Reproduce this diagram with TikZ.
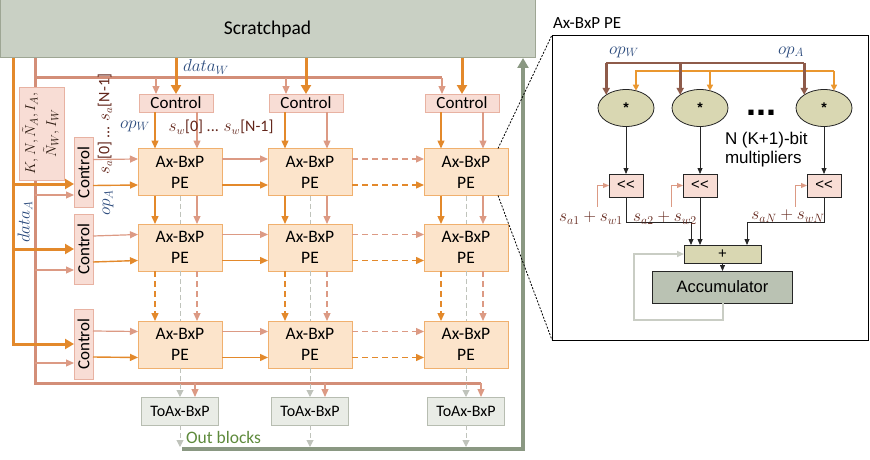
\documentclass[tikz,border=0pt]{standalone}
\usepackage{fontspec}
\usepackage{graphicx}
\setmainfont{Carlito}
\newfontfamily\arialf{Liberation Sans}
\usetikzlibrary{arrows.meta,shapes.geometric}
\definecolor{orng}{HTML}{E3892B}
\definecolor{slmn}{HTML}{DC9A84}
\definecolor{slmnD}{HTML}{D38E78}
\definecolor{pefill}{HTML}{FCE4CB}
\definecolor{pedraw}{HTML}{F0B06E}
\definecolor{ctfill}{HTML}{F8DDD5}
\definecolor{ctdraw}{HTML}{E8B2A2}
\definecolor{spfill}{HTML}{C9D0C4}
\definecolor{spdraw}{HTML}{9EA694}
\definecolor{tofill}{HTML}{E9ECE6}
\definecolor{todraw}{HTML}{B7BDB1}
\definecolor{grn}{HTML}{8A9882}
\definecolor{gdash}{HTML}{BFC3BB}
\definecolor{lblue}{HTML}{2B4A7C}
\definecolor{lbrown}{HTML}{62251A}
\definecolor{kntext}{HTML}{2E1C12}
\definecolor{txtgreen}{HTML}{5E8A3C}
\definecolor{khaki}{HTML}{D9D7B2}
\definecolor{accf}{HTML}{BAC2B3}
\definecolor{opbrown}{HTML}{8E5B4A}
\definecolor{oporange}{HTML}{EA972F}
\definecolor{fbgray}{HTML}{C9CDC4}
\newcommand{\fsz}[2]{\fontsize{#1}{#2}\selectfont}
\begin{document}
\begin{tikzpicture}[x=1pt,y=-1pt,
  every node/.style={inner sep=0pt, outer sep=0pt},
  spbox/.style={draw=spdraw, fill=spfill, line width=1pt, minimum width=535pt, minimum height=58pt, font=\fsz{19.5}{23}},
  ctop/.style={draw=ctdraw, fill=ctfill, line width=0.8pt, minimum width=74pt, minimum height=18pt, font=\fsz{17}{20}},
  pebox/.style={draw=pedraw, fill=pefill, line width=0.9pt, minimum width=84pt, minimum height=47pt, align=center, font=\fsz{17.5}{21}},
  lctrl/.style={draw=ctdraw, fill=ctfill, line width=0.8pt, minimum width=19pt, minimum height=70pt, font=\fsz{17}{20}},
  kbox/.style={draw=ctdraw, fill=ctfill, line width=0.8pt, minimum width=45pt, minimum height=93pt, font=\fsz{15}{21}, text=kntext},
  tobox/.style={draw=todraw, fill=tofill, line width=0.8pt, minimum width=77pt, minimum height=28pt, font=\fsz{16}{19}},
  mlab/.style={font=\fsz{18.5}{20}},
  oarr/.style={draw=orng, line width=1.4pt, -{Triangle[length=8pt,width=7pt]}},
  sarr/.style={draw=slmn, line width=1.2pt, -{Triangle[length=8pt,width=7pt]}},
  othick/.style={draw=orng, line width=3pt},
  othickarr/.style={draw=orng, line width=3pt, -{Triangle[length=9pt,width=10pt]}},
  sthick/.style={draw=slmnD, line width=3pt},
  dsh/.style={dash pattern=on 6pt off 4pt},
  gd/.style={draw=gdash, line width=1pt, dash pattern=on 5pt off 3pt},
  gdarr/.style={gd, -{Triangle[length=7pt,width=7pt]}},
  grnarr/.style={draw=grn, line width=3.5pt, -{Triangle[length=10pt,width=11pt]}},
  zl/.style={draw=black, line width=0.8pt, dash pattern=on 2pt off 1.5pt},
  mult/.style={ellipse, draw=black!85, line width=0.8pt, fill=khaki, minimum width=56pt, minimum height=37pt, font=\arialf\bfseries\fsz{14}{16}},
  shbox/.style={draw=black!85, line width=0.8pt, fill=ctfill, minimum width=34pt, minimum height=23pt, font=\arialf\fsz{15}{17}},
  plusbox/.style={draw=black!85, line width=0.8pt, fill=khaki, minimum width=77pt, minimum height=18pt, font=\arialf\fsz{15}{17}},
  accbox/.style={draw=black!85, line width=0.8pt, fill=accf, minimum width=140pt, minimum height=32pt, font=\arialf\fsz{16.5}{19}},
  barr/.style={draw=black!85, line width=0.8pt, -{Triangle[length=6pt,width=5pt]}},
  ssarr/.style={draw=slmn, line width=1pt, -{Triangle[length=6pt,width=5pt]}},
  fbarr/.style={draw=fbgray, line width=2pt, -{Triangle[length=7pt,width=6pt]}},
  opbl/.style={draw=opbrown, line width=2.6pt},
  opbarr/.style={draw=opbrown, line width=2.6pt, -{Triangle[length=7pt,width=7pt]}},
  opol/.style={draw=oporange, line width=1.6pt},
  opoarr/.style={draw=oporange, line width=1.6pt, -{Triangle[length=6pt,width=6pt]}},
]
\useasboundingbox (0,0) rectangle (870,460);

% ---- bus coordinates and bus lines (behind the boxes)
\coordinate (sb0) at (35,58);
\coordinate (sbc) at (35,383);
\coordinate (sbe) at (481,383);
\coordinate (tb0) at (35,78);
\coordinate (tb1) at (442,78);
\coordinate (ob0) at (13,58);
\coordinate (ob1) at (13,184);
\coordinate (ob2) at (13,249);
\coordinate (ss1) at (35,195);
\coordinate (ss2) at (35,270);
\coordinate (ss3) at (35,363);
\coordinate (gs) at (182,449);
\coordinate (gx) at (523,449);

\draw[sthick] (sb0) -- (sbc) -- (sbe);
\draw[sthick] (tb0) -- (tb1);

% ---- scratchpad
\node[spbox] (sp) at (267.5,29) {Scratchpad};

% ---- top control boxes
\foreach \c/\x in {1/176,2/306,3/462} \node[ctop] (ct\c) at (\x,103) {Control};

% ---- PE grid
\foreach \c/\x in {1/180,2/310,3/466} {
  \foreach \r/\y in {1/172,2/247.5,3/344.5} {
    \node[pebox] (pe\c\r) at (\x,\y) {Ax-BxP\\PE};
  }
}

% ---- left control boxes
\foreach \r/\y in {1/172.5,2/249,3/344} \node[lctrl] (lc\r) at (83.5,\y) {\rotatebox{90}{Control}};

% ---- parameter box
\node[kbox] (kn) at (41.5,133.5) {\rotatebox{90}{\begin{tabular}{@{}c@{}}$K,N,\tilde{N}_A,I_A,$\\$\tilde{N}_W,I_W$\end{tabular}}};

% ---- out blocks
\foreach \c/\x in {1/180,2/310,3/466} \node[tobox] (to\c) at (\x,411) {ToAx-BxP};

% ---- orange bus (data_A)
\draw[othickarr] (ob0) |- (lc3.west);
\draw[othickarr] (ob1) -- (ob1 -| lc1.west);
\draw[othickarr] (ob2) -- (ob2 -| lc2.west);
% ---- salmon bus into left controls
\draw[sarr] (ss1) -- (ss1 -| lc1.west);
\draw[sarr] (ss2) -- (ss2 -| lc2.west);
\draw[sarr] (ss3) -- (ss3 -| lc3.west);

% ---- scratchpad to top controls, controls to PEs, vertical links
\foreach \c in {1,2,3} {
  \draw[othickarr] (ct\c.north |- sp.south) -- (ct\c.north);
  \draw[sarr] ([xshift=-20pt]ct\c.north) ++(0,-16) -- ([xshift=-20pt]ct\c.north);
  \draw[oarr] ([xshift=-25pt]pe\c1.north) ++(0,-36.5) -- ([xshift=-25pt]pe\c1.north);
  \draw[sarr] ([xshift=17pt]pe\c1.north) ++(0,-36.5) -- ([xshift=17pt]pe\c1.north);
  \draw[oarr] ([xshift=-25pt]pe\c1.south) -- ([xshift=-25pt]pe\c2.north);
  \draw[sarr] ([xshift=17pt]pe\c1.south) -- ([xshift=17pt]pe\c2.north);
  \draw[oarr, dsh] ([xshift=-25pt]pe\c2.south) -- ([xshift=-25pt]pe\c3.north);
  \draw[sarr, dsh] ([xshift=17pt]pe\c2.south) -- ([xshift=17pt]pe\c3.north);
  \draw[gd] (pe\c1.south) -- (pe\c2.north);
  \draw[gd] (pe\c2.south) -- (pe\c3.north);
  \draw[gdarr] (pe\c3.south) -- (to\c.north);
  \draw[gdarr] (to\c.south) -- ++(0,22);
  \draw[sarr] ([xshift=15pt]to\c.north) ++(0,-14) -- ([xshift=15pt]to\c.north);
}

% ---- horizontal connections
\foreach \r in {1,2,3} {
  \draw[sarr] ([yshift=13pt]lc\r.east) -- ([yshift=13pt]pe1\r.west);
  \draw[oarr] ([yshift=-13pt]lc\r.east) -- ([yshift=-13pt]pe1\r.west);
  \draw[sarr] ([yshift=13pt]pe1\r.east) -- ([yshift=13pt]pe2\r.west);
  \draw[oarr] ([yshift=-13pt]pe1\r.east) -- ([yshift=-13pt]pe2\r.west);
  \draw[sarr, dsh] ([yshift=13pt]pe2\r.east) -- ([yshift=13pt]pe3\r.west);
  \draw[oarr, dsh] ([yshift=-13pt]pe2\r.east) -- ([yshift=-13pt]pe3\r.west);
}

% ---- green return path
\draw[grnarr] (gs) -- (gx) -- (gx |- sp.south);

% ---- labels
\node[mlab, text=lblue] (dwl) at (206,67) {$data_W$};
\node[mlab, text=lblue] (opwl) at (135,126) {$op_W$};
\node[text=lbrown, font=\fsz{16}{19}] (swl) at (221,127) {$s_w$[0] ... $s_w$[N-1]};
\node[text=lbrown, font=\fsz{16}{19}, rotate=90] (sal) at (105,124) {$s_a$[0] ... $s_a$[N-1]};
\node[mlab, text=lblue, rotate=90] (opal) at (108,203) {$op_A$};
\node[mlab, text=lblue, rotate=90] (dal) at (25,222) {$data_A$};
\node[text=txtgreen, anchor=west, font=\fsz{17.5}{20}] (outl) at (186,437) {Out blocks};

% ---- detail panel
\node[draw=black, line width=0.9pt, minimum width=316pt, minimum height=305pt] (panel) at (710,187.5) {};
\node[anchor=base west, font=\fsz{17}{20}] (ptitle) at (553,29) {Ax-BxP PE};

\draw[zl] ([xshift=-10pt]pe31.north east) -- (panel.north west);
\draw[zl] ([xshift=-10pt]pe31.south east) -- (panel.south west);

\foreach \i/\x in {1/626,2/700,3/824} {
  \node[mult] (m\i) at (\x,108) {*};
  \node[shbox] (sh\i) at (\x,185.5) {<\kern0pt<};
}
\node[plusbox] (plus) at (722.5,254) {+};
\node[accbox] (acc) at (722.5,287) {Accumulator};

\coordinate (opwb) at (606,63);
\coordinate (opab) at (635,71);
\draw[opol] (opab) -- (opab -| m3.60);
\foreach \i in {1,2,3} \draw[opoarr] (opab -| m\i.60) -- (m\i.60);
\draw[opbl] (opwb) -- (opwb -| m3.north west);
\foreach \i in {1,2,3} \draw[opbarr] (opwb -| m\i.north west) -- (m\i.north west);

\node[mlab, text=lblue] (opw2) at (624,52) {$op_W$};
\node[mlab, text=lblue] (opa2) at (791,52) {$op_A$};

\node[font=\arialf\bfseries\fsz{36}{36}] (dots) at (761,113) {...};
\node[anchor=north west, align=left, font=\arialf\fsz{17}{19.5}] (nmul) at (725,132) {N (K+1)-bit\\multipliers};

\foreach \i in {1,2,3} {
  \draw[barr] (m\i.south) -- (sh\i.north);
  \draw[ssarr] (sh\i.west) ++(-12,21) |- (sh\i.west);
}

\coordinate (j1) at (691,222);
\coordinate (j3) at (747,222);
\draw[barr] (sh1.south) |- (j1) -- (j1 |- plus.north);
\draw[barr] (sh2.south) -- (sh2.south |- plus.north);
\draw[barr] (sh3.south) |- (j3) -- (j3 |- plus.north);
\draw[barr] (plus.south) -- (acc.north);
\coordinate (fbc) at (634,320);
\draw[fbarr] (acc.south) |- (fbc) |- (plus.west);

\node[text=lbrown, font=\fsz{18}{19}] (l1) at (591,218) {$s_{a1}+s_{w1}$};
\node[text=lbrown, font=\fsz{18}{19}] (l2) at (665,218) {$s_{a2}+s_{w2}$};
\node[text=lbrown, font=\fsz{18}{19}] (l3) at (788,216) {$s_{aN}+s_{wN}$};
\end{tikzpicture}
\end{document}
